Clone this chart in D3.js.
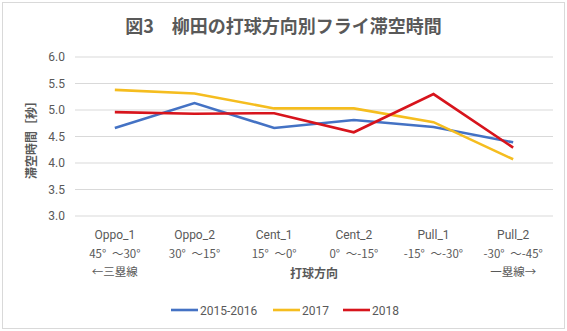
<!DOCTYPE html>
<html>
<head>
<meta charset="utf-8">
<script src="https://cdn.jsdelivr.net/npm/d3@7"></script>
<style>
  body { margin: 0; background: #fff; }
  text { font-family: "Noto Sans CJK JP", "Noto Sans", sans-serif; fill: #595959; }
</style>
</head>
<body>
<div id="chart"></div>
<script>
var categories = ["Oppo_1", "Oppo_2", "Cent_1", "Cent_2", "Pull_1", "Pull_2"];
var angleLabels = ["45°\u2002～30°", "30°\u2002～15°", "15°\u2002～0°", "0°\u2002～-15°", "-15°\u2002～-30°", "-30°\u2002～-45°"];
var yTicks = [3.0, 3.5, 4.0, 4.5, 5.0, 5.5, 6.0];
var seriesNames = ["2015-2016", "2017", "2018"];
var values1516 = [4.66, 5.13, 4.66, 4.81, 4.68, 4.39];
var values2017 = [5.38, 5.31, 5.03, 5.03, 4.77, 4.07];
var values2018 = [4.96, 4.93, 4.94, 4.58, 5.30, 4.29];
var colors = ["#4472C4", "#F5BD1F", "#D7141C"];

var W = 567, H = 331;
var margin = {top: 57, right: 14, bottom: 115, left: 75};
var width = W - margin.left - margin.right,
    height = H - margin.top - margin.bottom;

var svg = d3.select("#chart").append("svg")
    .attr("width", W)
    .attr("height", H);

// chart border
svg.append("rect")
    .attr("x", 2.5).attr("y", 2.5)
    .attr("width", W - 5).attr("height", H - 5)
    .attr("fill", "#fff")
    .attr("stroke", "#D9D9D9");

svg.append("text")
    .attr("x", W / 2)
    .attr("y", 33)
    .attr("text-anchor", "middle")
    .style("font-size", "18px")
    .style("font-weight", "bold")
    .text("図3　柳田の打球方向別フライ滞空時間");

var g = svg.append("g")
    .attr("transform", "translate(" + margin.left + "," + margin.top + ")");

var x = d3.scaleBand()
    .domain(categories)
    .range([0, width]);

var y = d3.scaleLinear()
    .domain([3, 6])
    .range([height, 0]);

// gridlines
g.selectAll(".grid")
    .data(yTicks)
    .enter().append("line")
    .attr("x1", 0)
    .attr("x2", width)
    .attr("y1", d => y(d))
    .attr("y2", d => y(d))
    .attr("stroke", "#D9D9D9")
    .attr("stroke-width", 1);

// y axis
var yAxis = g.append("g")
    .call(d3.axisLeft(y).tickValues(yTicks).tickFormat(d3.format(".1f")).tickSize(0).tickPadding(10));
yAxis.select(".domain").remove();
yAxis.selectAll("text")
    .style("font-size", "12px")
    .style("font-family", "Roboto, 'Noto Sans', sans-serif")
    .attr("fill", "#595959");

// x axis, three label rows
var xAxis = g.append("g")
    .attr("transform", "translate(0," + height + ")")
    .call(d3.axisBottom(x).tickSize(0).tickPadding(14));
xAxis.select(".domain").remove();
xAxis.selectAll("text")
    .style("font-size", "12px")
    .style("font-family", "Roboto, 'Noto Sans', sans-serif")
    .attr("fill", "#595959");

g.selectAll(".angle")
    .data(categories)
    .enter().append("text")
    .attr("x", d => x(d) + x.bandwidth() / 2)
    .attr("y", height + 42)
    .attr("text-anchor", "middle")
    .style("font-size", "11.5px")
    .text((d, i) => angleLabels[i]);

g.append("text")
    .attr("x", x(categories[0]) + x.bandwidth() / 2)
    .attr("y", height + 60)
    .attr("text-anchor", "middle")
    .style("font-size", "11.5px")
    .text("←三塁線");

g.append("text")
    .attr("x", x(categories[5]) + x.bandwidth() / 2)
    .attr("y", height + 60)
    .attr("text-anchor", "middle")
    .style("font-size", "11.5px")
    .text("一塁線→");

g.append("text")
    .attr("x", width / 2)
    .attr("y", height + 62)
    .attr("text-anchor", "middle")
    .style("font-size", "12px")
    .style("font-weight", "bold")
    .text("打球方向");

svg.append("text")
    .attr("transform", "translate(36," + (margin.top + 80) + ") rotate(-90)")
    .attr("text-anchor", "middle")
    .style("font-size", "12px")
    .style("font-weight", "bold")
    .text("滞空時間［秒］");

// lines
var allSeries = [values1516, values2017, values2018];
var line = d3.line()
    .x((d, i) => x(categories[i]) + x.bandwidth() / 2)
    .y(d => y(d));

allSeries.forEach(function(vals, i) {
    g.append("path")
        .datum(vals)
        .attr("fill", "none")
        .attr("stroke", colors[i])
        .attr("stroke-width", 2.6)
        .attr("stroke-linejoin", "miter")
        .attr("d", line);
});

// legend
var legendX = [171, 273, 343];
var legend = svg.selectAll(".legend")
    .data(seriesNames)
    .enter().append("g")
    .attr("transform", (d, i) => "translate(" + legendX[i] + ",310)");

legend.append("line")
    .attr("x1", 0).attr("x2", 27)
    .attr("y1", 0).attr("y2", 0)
    .attr("stroke", (d, i) => colors[i])
    .attr("stroke-width", 2.6);

legend.append("text")
    .attr("x", 29)
    .attr("y", 4.5)
    .style("font-size", "12px")
    .style("font-family", "Roboto, 'Noto Sans', sans-serif")
    .text(d => d);
</script>
</body>
</html>
